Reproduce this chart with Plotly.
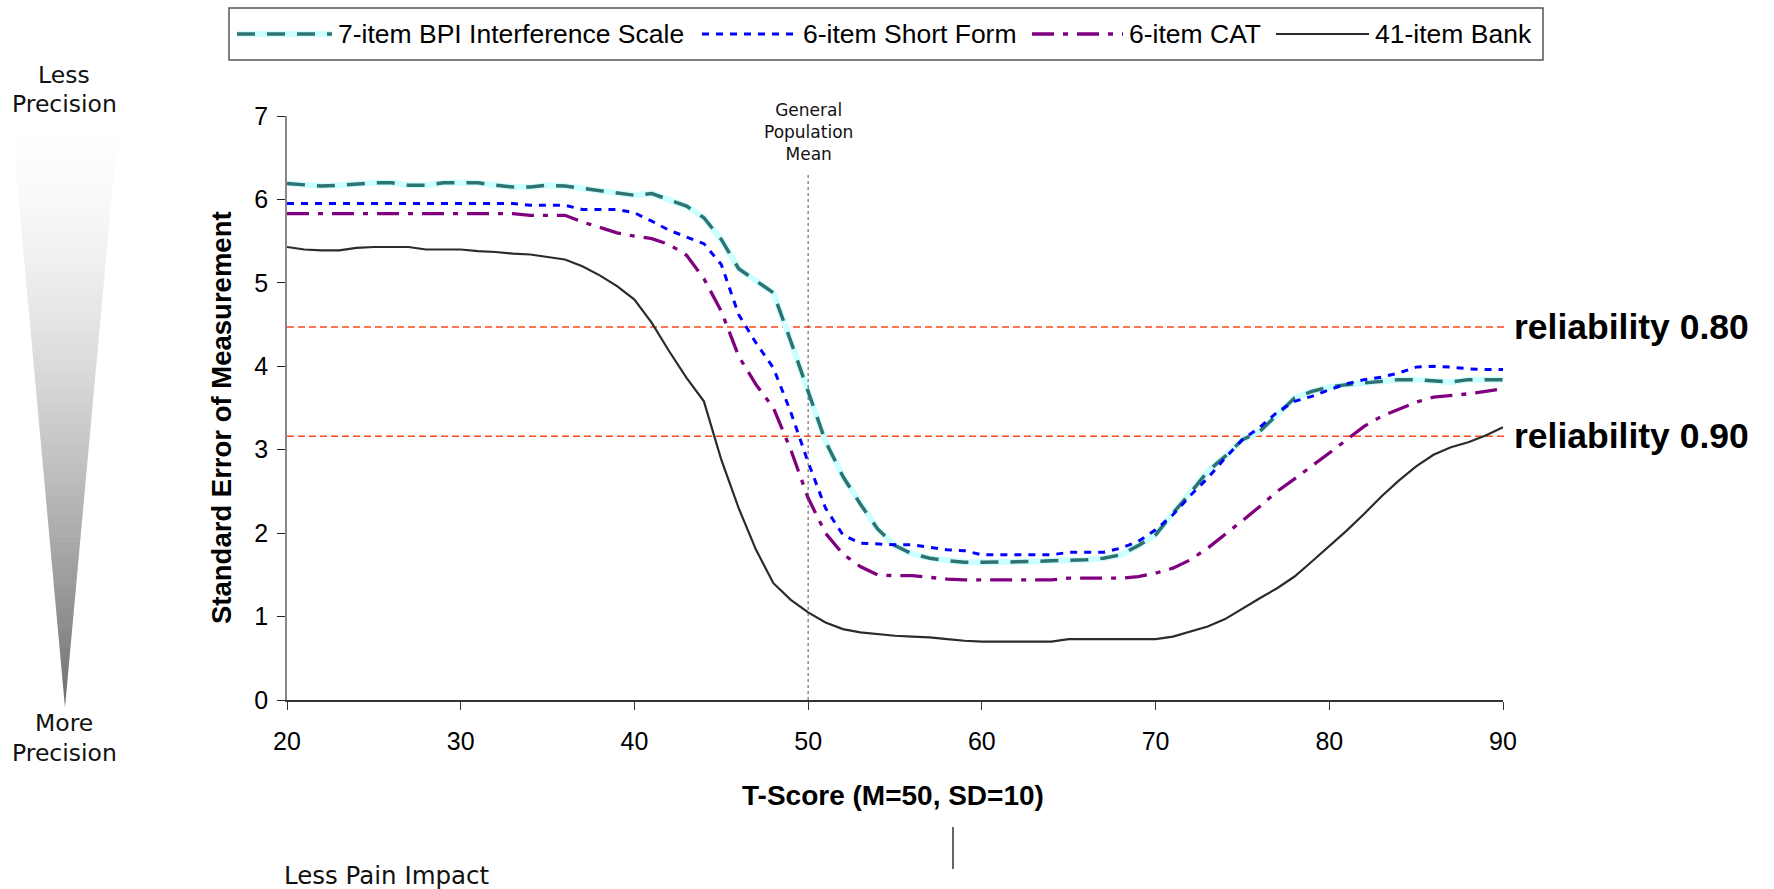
import plotly.graph_objects as go

# ---------------- data ----------------
t_scores = list(range(20, 91))

bpi_7item = [6.19, 6.17, 6.16, 6.17, 6.19, 6.20, 6.20, 6.17, 6.17, 6.20,
             6.20, 6.20, 6.17, 6.15, 6.15, 6.17, 6.16, 6.13, 6.10, 6.07,
             6.05, 6.07, 6.00, 5.92, 5.78, 5.52, 5.17, 5.02, 4.88, 4.30,
             3.70, 3.10, 2.68, 2.35, 2.05, 1.85, 1.75, 1.70, 1.67, 1.65,
             1.65, 1.65, 1.65, 1.66, 1.67, 1.67, 1.68, 1.70, 1.74, 1.85,
             1.98, 2.24, 2.48, 2.74, 2.92, 3.12, 3.22, 3.42, 3.62, 3.70,
             3.75, 3.78, 3.80, 3.82, 3.84, 3.84, 3.82, 3.81, 3.84, 3.84,
             3.84]

short_form_6 = [5.95, 5.95, 5.95, 5.95, 5.95, 5.95, 5.95, 5.95, 5.95, 5.95,
                5.95, 5.95, 5.95, 5.95, 5.93, 5.93, 5.93, 5.88, 5.88, 5.88,
                5.84, 5.74, 5.63, 5.55, 5.47, 5.22, 4.62, 4.28, 3.98, 3.45,
                2.85, 2.30, 1.98, 1.88, 1.87, 1.86, 1.86, 1.83, 1.80, 1.79,
                1.74, 1.74, 1.74, 1.74, 1.74, 1.77, 1.77, 1.77, 1.82, 1.90,
                2.04, 2.22, 2.45, 2.66, 2.90, 3.12, 3.27, 3.45, 3.58, 3.64,
                3.72, 3.79, 3.84, 3.87, 3.92, 3.99, 4.00, 3.99, 3.97, 3.96,
                3.96]

cat_6 = [5.83, 5.83, 5.83, 5.83, 5.83, 5.83, 5.83, 5.83, 5.83, 5.83,
         5.83, 5.83, 5.83, 5.83, 5.81, 5.81, 5.81, 5.73, 5.66, 5.60,
         5.56, 5.53, 5.46, 5.33, 5.05, 4.66, 4.12, 3.78, 3.50, 3.00,
         2.42, 2.00, 1.75, 1.60, 1.50, 1.49, 1.49, 1.47, 1.45, 1.44,
         1.44, 1.44, 1.44, 1.44, 1.44, 1.46, 1.46, 1.46, 1.46, 1.48,
         1.52, 1.58, 1.68, 1.82, 1.98, 2.15, 2.32, 2.50, 2.65, 2.80,
         2.96, 3.12, 3.28, 3.40, 3.49, 3.57, 3.63, 3.65, 3.67, 3.70,
         3.73]

bank_41 = [5.43, 5.40, 5.39, 5.39, 5.42, 5.43, 5.43, 5.43, 5.40, 5.40,
           5.40, 5.38, 5.37, 5.35, 5.34, 5.31, 5.28, 5.20, 5.09, 4.96,
           4.80, 4.52, 4.18, 3.86, 3.58, 2.88, 2.30, 1.80, 1.40, 1.20,
           1.05, 0.93, 0.85, 0.81, 0.79, 0.77, 0.76, 0.75, 0.73, 0.71,
           0.70, 0.70, 0.70, 0.70, 0.70, 0.73, 0.73, 0.73, 0.73, 0.73,
           0.73, 0.76, 0.82, 0.88, 0.97, 1.10, 1.22, 1.34, 1.48, 1.66,
           1.84, 2.03, 2.23, 2.44, 2.63, 2.80, 2.94, 3.03, 3.09, 3.17,
           3.27]

series_names = ["7-item BPI Interference Scale", "6-item Short Form",
                "6-item CAT", "41-item Bank"]

reliabilities = [0.80, 0.90]
population_mean = 50
y_ticks = list(range(0, 8))
x_ticks = list(range(20, 91, 10))

# ---------------- layout geometry (pixels) ----------------
W, H = 1774, 889
L, R, T, B = 287, 1503, 116, 700          # plot-area edges


def px2x(px):
    return (px - L) / (R - L)


def py2y(py):
    return (B - py) / (B - T)


FONT = "Liberation Sans, Arial, sans-serif"
TEAL, CYAN, BLUE, PURPLE, BLACK = "#2e7371", "#ccffff", "#0000ff", "#800080", "#2b2b2b"
RED = "#ff4a1c"

fig = go.Figure()

# 7-item scale: pale cyan band under a teal long-dash line
fig.add_trace(go.Scatter(x=t_scores, y=bpi_7item, mode="lines",
                         line=dict(color=CYAN, width=6), showlegend=False,
                         hoverinfo="skip"))
fig.add_trace(go.Scatter(x=t_scores, y=bpi_7item, mode="lines", name=series_names[0],
                         line=dict(color=TEAL, width=3.5, dash="18px,12px")))
fig.add_trace(go.Scatter(x=t_scores, y=short_form_6, mode="lines", name=series_names[1],
                         line=dict(color=BLUE, width=3, dash="7px,7px")))
fig.add_trace(go.Scatter(x=t_scores, y=cat_6, mode="lines", name=series_names[2],
                         line=dict(color=PURPLE, width=3.3, dash="22px,9px,5px,9px")))
fig.add_trace(go.Scatter(x=t_scores, y=bank_41, mode="lines", name=series_names[3],
                         line=dict(color=BLACK, width=2.2)))

shapes = []
annotations = []

# reliability thresholds: SEM = 10 * sqrt(1 - r) on the T-score metric
for r in reliabilities:
    sem = 10 * (1 - r) ** 0.5
    shapes.append(dict(type="line", xref="paper", yref="y", x0=0, x1=px2x(1505),
                       y0=sem, y1=sem, line=dict(color=RED, width=1.5, dash="7px,4px"),
                       layer="below"))
    annotations.append(dict(xref="paper", yref="y", x=px2x(1512), y=sem,
                            xanchor="left", yanchor="middle", showarrow=False,
                            text=f"<b>reliability {r:.2f}</b>",
                            font=dict(family=FONT, size=35.5, color="black")))

# general population mean marker
shapes.append(dict(type="line", xref="x", yref="paper", x0=population_mean, x1=population_mean,
                   y0=0, y1=py2y(172), line=dict(color="#555555", width=1, dash="dot")))
annotations.append(dict(xref="x", yref="paper", x=population_mean, y=py2y(132),
                        xanchor="center", yanchor="middle", showarrow=False,
                        text="General<br>Population<br>Mean", align="center",
                        font=dict(family="DejaVu Sans, sans-serif", size=17, color="#111111")))

# axis titles
annotations.append(dict(xref="paper", yref="paper", x=px2x(221), y=py2y(418),
                        xanchor="center", yanchor="middle", showarrow=False, textangle=-90,
                        text="<b>Standard Error of Measurement</b>",
                        font=dict(family=FONT, size=27.5, color="black")))
annotations.append(dict(xref="paper", yref="paper", x=px2x(893), y=py2y(795),
                        xanchor="center", yanchor="middle", showarrow=False,
                        text="<b>T-Score (M=50, SD=10)</b>",
                        font=dict(family=FONT, size=28, color="black")))

# pain impact direction note
shapes.append(dict(type="line", xref="paper", yref="paper", x0=px2x(953), x1=px2x(953),
                   y0=py2y(827), y1=py2y(869), line=dict(color="black", width=1.2)))
annotations.append(dict(xref="paper", yref="paper", x=px2x(282), y=py2y(875),
                        xanchor="left", yanchor="middle", showarrow=False,
                        text="Less Pain Impact",
                        font=dict(family="DejaVu Sans, sans-serif", size=24.5, color="#111111")))

# precision wedge: white at the top fading to grey at the point
top_y, apex_y = 116, 707
cx, half_w = 65, 54
n_bands = 90
for i in range(n_bands):
    t0, t1 = i / n_bands, (i + 1) / n_bands
    ya, yb = top_y + (apex_y - top_y) * t0, top_y + (apex_y - top_y) * t1
    wa, wb = half_w * (1 - t0), half_w * (1 - t1)
    tm = (t0 + t1) / 2
    g = int(round(255 - 145 * tm ** 1.6))
    path = (f"M {px2x(cx - wa)},{py2y(ya)} L {px2x(cx + wa)},{py2y(ya)} "
            f"L {px2x(cx + wb)},{py2y(yb + 0.6)} L {px2x(cx - wb)},{py2y(yb + 0.6)} Z")
    shapes.append(dict(type="path", xref="paper", yref="paper", path=path,
                       fillcolor=f"rgb({g},{g},{g})", line=dict(width=0)))

for label, py in [("Less", 75), ("Precision", 104), ("More", 723), ("Precision", 753)]:
    annotations.append(dict(xref="paper", yref="paper", x=px2x(64), y=py2y(py),
                            xanchor="center", yanchor="middle", showarrow=False, text=label,
                            font=dict(family="DejaVu Sans, sans-serif", size=23.5, color="#111111")))

# legend box drawn by hand so each sample keeps its exact styling
shapes.append(dict(type="rect", xref="paper", yref="paper",
                   x0=px2x(229), x1=px2x(1543), y0=py2y(8), y1=py2y(60),
                   line=dict(color="#555555", width=1.5), fillcolor="white"))
legend_y = py2y(34)
legend_items = [
    (series_names[0], 237, 332, [(CYAN, 6, "solid"), (TEAL, 3.5, "18px,12px")], 336),
    (series_names[1], 702, 797, [(BLUE, 3, "7px,7px")], 801),
    (series_names[2], 1032, 1123, [(PURPLE, 3.3, "22px,9px,5px,9px")], 1127),
    (series_names[3], 1276, 1369, [(BLACK, 2.2, "solid")], 1373),
]
for name, x0, x1, styles, tx in legend_items:
    for color, width, dash in styles:
        shapes.append(dict(type="line", xref="paper", yref="paper",
                           x0=px2x(x0), x1=px2x(x1), y0=legend_y, y1=legend_y,
                           line=dict(color=color, width=width, dash=dash)))
    annotations.append(dict(xref="paper", yref="paper", x=px2x(tx), y=legend_y,
                            xanchor="left", yanchor="middle", showarrow=False, text=name,
                            font=dict(family=FONT, size=26.5, color="black")))

fig.update_layout(
    width=W, height=H,
    margin=dict(l=L, r=W - R, t=T, b=H - B, pad=0),
    paper_bgcolor="white", plot_bgcolor="white",
    showlegend=False,
    shapes=shapes, annotations=annotations,
    xaxis=dict(range=[20, 90], tickvals=x_ticks, showgrid=False, zeroline=False,
               showline=True, linecolor="#333333", linewidth=1.5,
               ticks="outside", ticklen=8, tickcolor="#333333", tickwidth=1.2,
               ticklabelstandoff=10,
               tickfont=dict(family=FONT, size=25, color="black")),
    yaxis=dict(range=[0, 7], tickvals=y_ticks, showgrid=False, zeroline=False,
               showline=True, linecolor="#888888", linewidth=1.5,
               ticks="outside", ticklen=8, tickcolor="#222222", tickwidth=1.2,
               ticklabelstandoff=4,
               tickfont=dict(family=FONT, size=25, color="black")),
)

fig.write_html("out.html")
